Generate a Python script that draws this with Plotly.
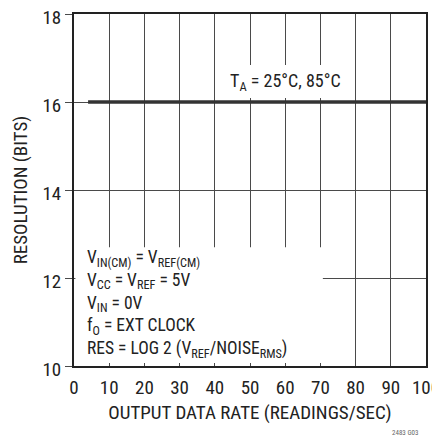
import plotly.graph_objects as go

# data
rate = [4, 100]
resolution = [16, 16]
x_ticks = [0, 10, 20, 30, 40, 50, 60, 70, 80, 90, 100]
y_ticks = [10, 12, 14, 16, 18]

notes = [
    "V<sub>IN(CM)</sub> = V<sub>REF(CM)</sub>",
    "V<sub>CC</sub> = V<sub>REF</sub> = 5V",
    "V<sub>IN</sub> = 0V",
    "f<sub>O</sub> = EXT CLOCK",
    "RES = LOG 2 (V<sub>REF</sub>/NOISE<sub>RMS</sub>)",
]

FONT = "Liberation Sans Narrow, Roboto Condensed, Arial Narrow, Roboto, sans-serif"
INK = "#222222"
GRID = "#4a4a4a"

fig = go.Figure()

fig.add_trace(go.Scatter(
    x=rate, y=resolution, mode="lines",
    line=dict(color="#333333", width=3.5),
    showlegend=False, hoverinfo="skip"
))

# white patches that hide the grid behind the labels
fig.add_shape(type="rect", xref="x", yref="y", x0=0.4, x1=70.7, y0=10.07, y1=12.7,
              fillcolor="white", line=dict(width=0), layer="between")
fig.add_shape(type="rect", xref="x", yref="y", x0=42.5, x1=77.8, y0=16.09, y1=16.84,
              fillcolor="white", line=dict(width=0), layer="between")

fig.add_annotation(
    x=60, y=16.45, xref="x", yref="y", showarrow=False,
    text="T<sub>A</sub> = 25°C, 85°C",
    font=dict(family=FONT, size=18, color=INK)
)

fig.add_annotation(
    x=3.0, y=11.40, xref="x", yref="y", showarrow=False,
    xanchor="left", yanchor="middle", align="left",
    text="<br>".join(notes), font=dict(family=FONT, size=17.5, color=INK)
)

fig.add_annotation(
    x=1.0, y=0.0, xref="paper", yref="paper", yshift=-73, xshift=-6,
    showarrow=False, xanchor="right", yanchor="bottom",
    text="2483 G03", font=dict(family=FONT, size=7, color="#666666")
)

fig.update_xaxes(
    range=[0, 100], tickvals=x_ticks, ticks="", automargin=False,
    ticklabeloverflow="allow", ticklabelstandoff=3,
    showgrid=True, gridcolor=GRID, gridwidth=1,
    showline=True, linecolor=INK, linewidth=2, mirror=True,
    zeroline=False,
    title=dict(text="OUTPUT DATA RATE (READINGS/SEC)", font=dict(family=FONT, size=19, color=INK),
               standoff=8),
    tickfont=dict(family=FONT, size=19, color=INK)
)
fig.update_yaxes(
    range=[10, 18], tickvals=y_ticks, ticks="outside", ticklen=7, tickcolor=GRID,
    automargin=False, ticklabeloverflow="allow", ticklabelshift=3,
    showgrid=True, gridcolor=GRID, gridwidth=1,
    showline=True, linecolor=INK, linewidth=2, mirror=True,
    zeroline=False,
    title=dict(text="RESOLUTION (BITS)", font=dict(family=FONT, size=19, color=INK),
               standoff=10),
    tickfont=dict(family=FONT, size=19, color=INK)
)

# the page body adds an 8px offset, so the margins are shifted to compensate
fig.update_layout(
    width=440, height=441,
    margin=dict(l=66, r=22, t=6, b=83),
    paper_bgcolor="white", plot_bgcolor="white",
    font=dict(family=FONT, color=INK)
)

fig.write_html("out.html")
